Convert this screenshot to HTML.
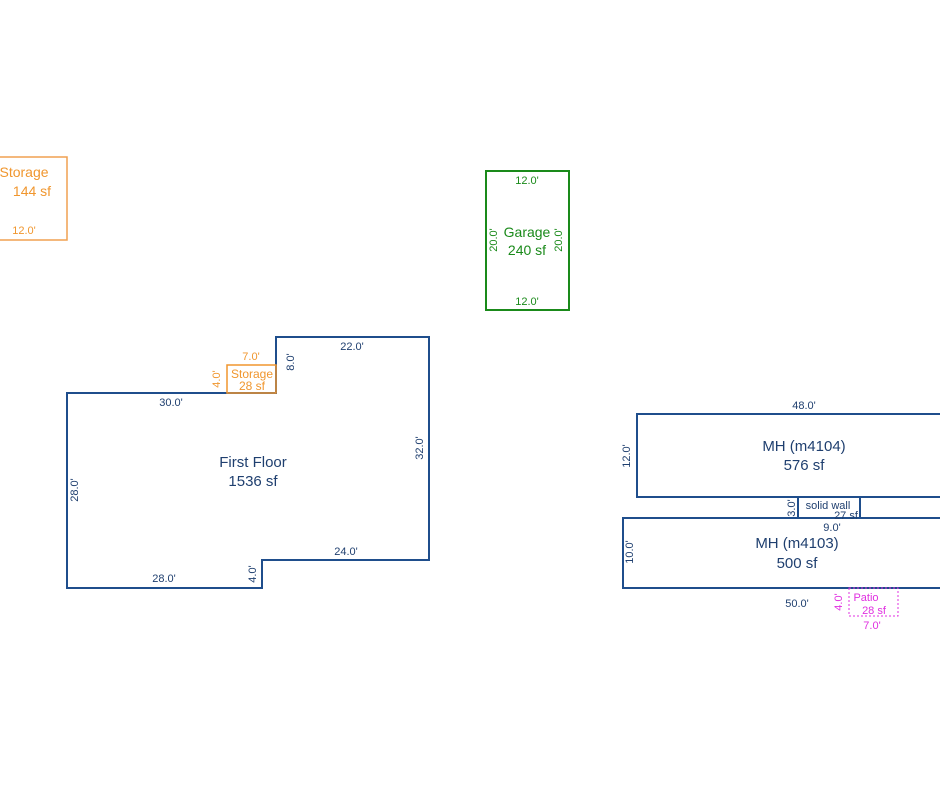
<!DOCTYPE html>
<html><head><style>body{margin:0;background:#fff}svg{display:block}text{font-family:"Liberation Sans",sans-serif}</style></head>
<body>
<svg width="940" height="788" viewBox="0 0 940 788">
<g fill="none" stroke-width="2">
<rect x="-20" y="157" width="87" height="83" stroke="#f0a050" stroke-width="1.5"/>
<rect x="486" y="171" width="83" height="139" stroke="#1a8a1a"/>
<polygon points="67,393 276,393 276,337 429,337 429,560 262,560 262,588 67,588" stroke="#1f4e8c"/>
<rect x="227" y="365" width="49" height="28" stroke="#f0962e" stroke-width="1.5"/>
<rect x="637" y="414" width="310" height="83" stroke="#1f4e8c"/>
<rect x="798" y="497" width="62" height="21" stroke="#1f4e8c"/>
<rect x="623" y="518" width="324" height="70" stroke="#1f4e8c"/>
<rect x="849" y="588" width="49" height="28" stroke="#e030e0" stroke-width="1" stroke-dasharray="2,2"/>
</g>
<g fill="#f0962e" font-size="14" text-anchor="middle">
<text x="24" y="177">Storage</text><text x="32" y="196">144 sf</text>
<text x="24" y="234" font-size="11">12.0'</text>
<text x="252" y="378" font-size="12">Storage</text><text x="252" y="390" font-size="12">28 sf</text>
<text x="251" y="360" font-size="11">7.0'</text>
<text transform="translate(220,379) rotate(-90)" font-size="11">4.0'</text>
</g>
<g fill="#1a8a1a" font-size="14" text-anchor="middle">
<text x="527" y="237">Garage</text><text x="527" y="255">240 sf</text>
<text x="527" y="184" font-size="11">12.0'</text><text x="527" y="305" font-size="11">12.0'</text>
<text transform="translate(497,240) rotate(-90)" font-size="11">20.0'</text>
<text transform="translate(562,240) rotate(-90)" font-size="11">20.0'</text>
</g>
<g fill="#1f3f6f" font-size="11" text-anchor="middle">
<text x="253" y="467" font-size="15">First Floor</text><text x="253" y="486" font-size="15">1536 sf</text>
<text x="352" y="350">22.0'</text><text x="171" y="406">30.0'</text>
<text x="346" y="555">24.0'</text><text x="164" y="582">28.0'</text>
<text transform="translate(294,362) rotate(-90)">8.0'</text>
<text transform="translate(423,448) rotate(-90)">32.0'</text>
<text transform="translate(78,490) rotate(-90)">28.0'</text>
<text transform="translate(256,574) rotate(-90)">4.0'</text>
<text x="804" y="409">48.0'</text>
<text x="804" y="451" font-size="15">MH (m4104)</text><text x="804" y="470" font-size="15">576 sf</text>
<text transform="translate(630,456) rotate(-90)">12.0'</text>
<text x="828" y="509">solid wall</text><text x="846" y="519">27 sf</text>
<text transform="translate(795,508) rotate(-90)">3.0'</text>
<text x="832" y="531">9.0'</text>
<text x="797" y="548" font-size="15">MH (m4103)</text><text x="797" y="568" font-size="15">500 sf</text>
<text transform="translate(633,552) rotate(-90)">10.0'</text>
<text x="797" y="607">50.0'</text>
</g>
<g fill="#e030e0" font-size="11" text-anchor="middle">
<text x="866" y="601">Patio</text><text x="874" y="614">28 sf</text>
<text x="872" y="629">7.0'</text>
<text transform="translate(842,602) rotate(-90)">4.0'</text>
</g>
</svg>
</body></html>
